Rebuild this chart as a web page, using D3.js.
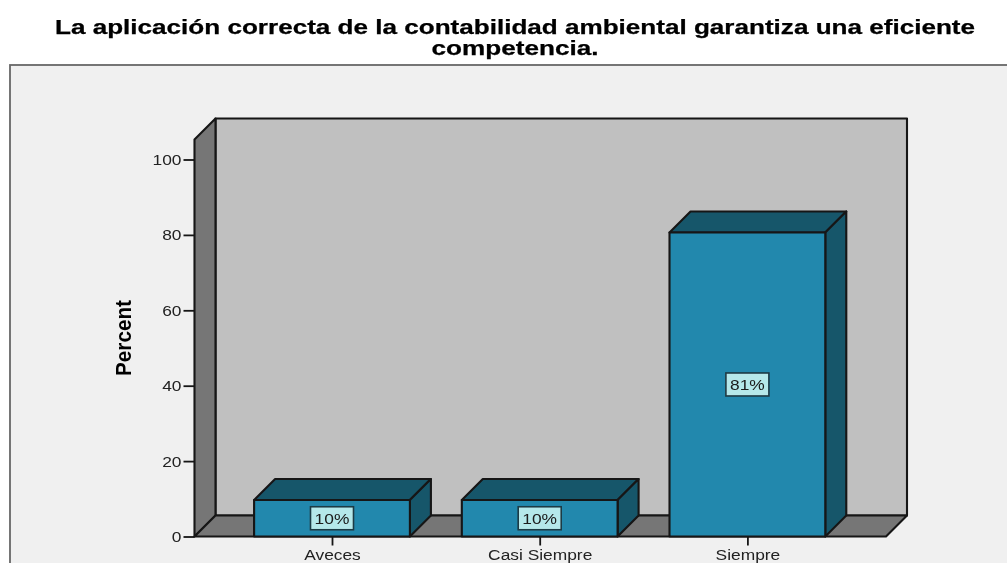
<!DOCTYPE html>
<html><head><meta charset="utf-8">
<script src="https://cdn.jsdelivr.net/npm/d3@7"></script>
<style>html,body{margin:0;padding:0;background:#fff;overflow:hidden}svg{display:block}text{font-family:"Liberation Sans",Arial,sans-serif;fill:#1a1a1a}</style>
</head><body><svg id="c" width="1007" height="563"></svg>
<script>
const titleLines = ["La aplicación correcta de la contabilidad ambiental garantiza una eficiente", "competencia."];
const categories = ["Aveces", "Casi Siempre", "Siempre"];
const values = [9.68, 9.68, 80.65];
const valueLabels = ["10%", "10%", "81%"];
const yTicks = [0, 20, 40, 60, 80, 100];
const yLabel = "Percent";
const yMax = 105.3;

const svg = d3.select("#c");
svg.append("defs").append("filter").attr("id", "soft")
  .attr("filterUnits", "userSpaceOnUse").attr("x", 0).attr("y", 0).attr("width", 1007).attr("height", 563)
  .append("feGaussianBlur").attr("stdDeviation", 0.4);
const root = svg.append("g").attr("filter", "url(#soft)");
root.append("rect").attr("width", 1007).attr("height", 563).attr("fill", "#fff");

const depth = 21;
const y = d3.scaleLinear().domain([0, 100]).range([536.5, 159.5]);
const x = d3.scaleBand().domain(categories).range([228.15, 851.25]).paddingInner(0.25).paddingOuter(0.125);
const plotL = 194.5, plotR = 886;
const edge = "#141414";
const line = d3.line();
const stretch = 1.12;
function widen(sel) {
  sel.each(function () {
    this.setAttribute("textLength", this.getComputedTextLength() * stretch);
    this.setAttribute("lengthAdjust", "spacingAndGlyphs");
  });
}

root.append("rect").attr("x", 10).attr("y", 65).attr("width", 1010).attr("height", 520)
  .attr("fill", "#f0f0f0").attr("stroke", "#666").attr("stroke-width", 1.8);

const titleWidths = [920, 167];
root.selectAll("text.title").data(titleLines).join("text").attr("class", "title")
  .attr("x", 515).attr("y", (d, i) => 34 + i * 21)
  .attr("text-anchor", "middle").attr("font-size", 20).attr("font-weight", "bold")
  .attr("textLength", (d, i) => titleWidths[i]).attr("lengthAdjust", "spacingAndGlyphs")
  .style("fill", "#000").style("stroke", "#000").style("stroke-width", 0.25).text(d => d);

const y0 = y(0), yT = y(yMax);
function poly(pts, fill) {
  root.append("path").attr("d", line(pts) + "Z").attr("fill", fill)
    .attr("stroke", edge).attr("stroke-width", 2.1).attr("stroke-linejoin", "round");
}
poly([[plotL + depth, yT - depth], [plotR + depth, yT - depth], [plotR + depth, y0 - depth], [plotL + depth, y0 - depth]], "#c0c0c0");
poly([[plotL, yT], [plotL + depth, yT - depth], [plotL + depth, y0 - depth], [plotL, y0]], "#767676");
poly([[plotL, y0], [plotL + depth, y0 - depth], [plotR + depth, y0 - depth], [plotR, y0]], "#767676");

const yAxis = d3.axisLeft(y).tickValues(yTicks).tickSize(11).tickPadding(2).tickFormat(d3.format("d"));
const gy = root.append("g").attr("transform", `translate(${plotL},0)`).call(yAxis);
gy.select(".domain").remove();
gy.selectAll(".tick line").attr("stroke", edge).attr("stroke-width", 1.8);
gy.selectAll(".tick text").attr("font-size", 15.5).attr("font-family", "Liberation Sans").style("fill", "#222").call(widen);

root.append("text").attr("transform", "translate(131,338) rotate(-90)")
  .attr("text-anchor", "middle").attr("font-size", 22).attr("font-weight", "bold")
  .attr("textLength", 76).attr("lengthAdjust", "spacingAndGlyphs").style("fill", "#000").text(yLabel);

categories.forEach((c, i) => {
  const l = x(c), r = l + x.bandwidth(), t = y(values[i]);
  poly([[l, t], [l + depth, t - depth], [r + depth, t - depth], [r, t]], "#17566b");
  poly([[r, t], [r + depth, t - depth], [r + depth, y0 - depth], [r, y0]], "#17566b");
  poly([[l, t], [r, t], [r, y0], [l, y0]], "#2388ad");
  const cx = l + x.bandwidth() / 2, cy = y(values[i] / 2);
  root.append("rect").attr("x", cx - 21.5).attr("y", cy - 11.5).attr("width", 43).attr("height", 23)
    .attr("fill", "#b5e8ea").attr("stroke", "#1f3a44").attr("stroke-width", 1.6);
  root.append("text").attr("x", cx).attr("y", cy + 5.5).attr("text-anchor", "middle")
    .attr("font-size", 15.5).text(valueLabels[i]).call(widen);
});

const xAxis = d3.axisBottom(d3.scalePoint().domain(categories).range([x(categories[0]) + x.bandwidth() / 2, x(categories[2]) + x.bandwidth() / 2]))
  .tickSize(9).tickPadding(3);
const gx = root.append("g").attr("transform", `translate(0,${y0})`).call(xAxis);
gx.select(".domain").remove();
gx.selectAll(".tick line").attr("stroke", edge).attr("stroke-width", 1.8);
gx.selectAll(".tick text").attr("font-size", 15.5).attr("font-family", "Liberation Sans").style("fill", "#222").call(widen);
</script></body></html>
